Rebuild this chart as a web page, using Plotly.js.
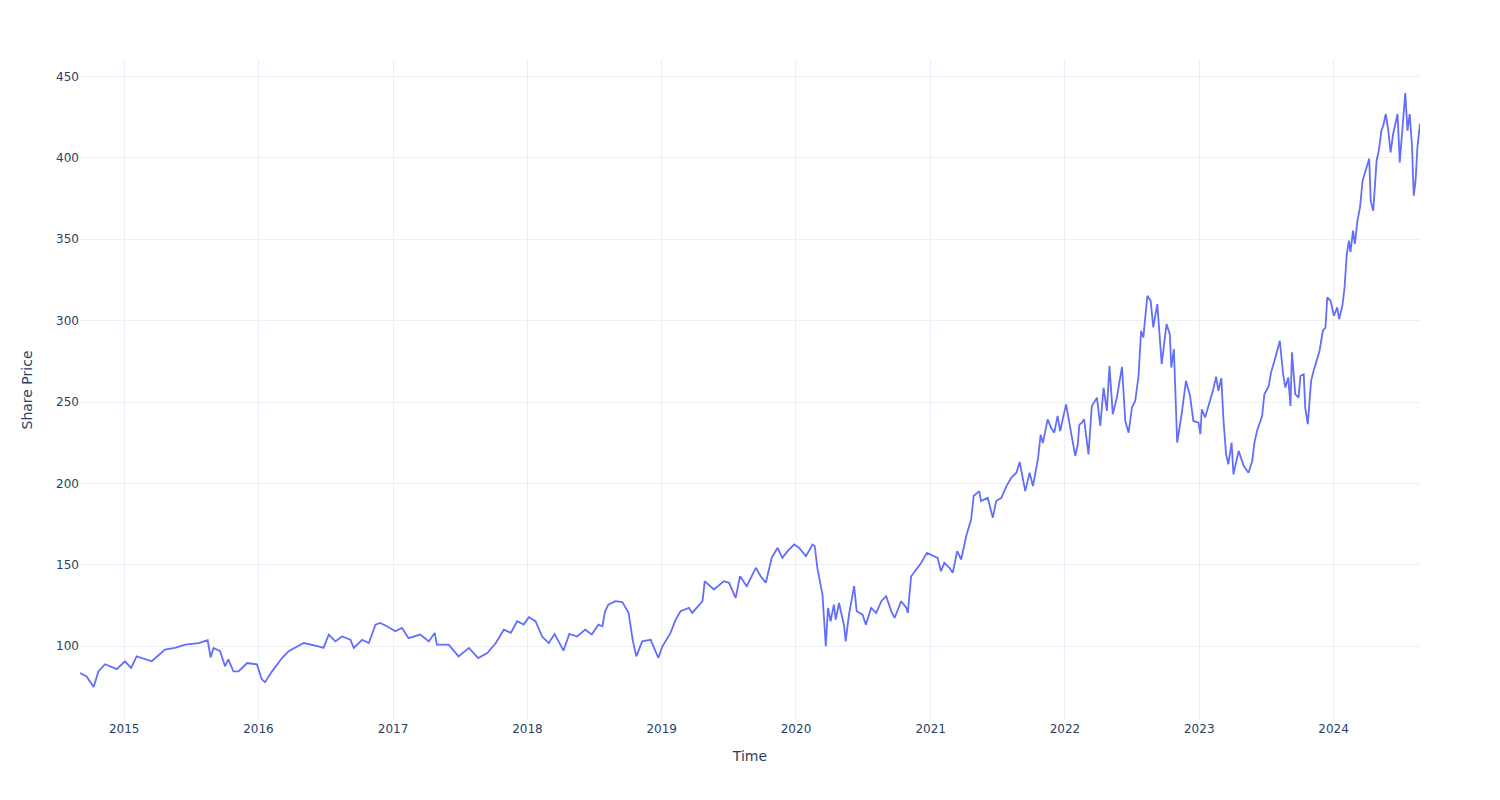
<!DOCTYPE html>
<html>
<head>
<meta charset="utf-8">
<script src="https://cdn.plot.ly/plotly-3.0.1.min.js"></script>
<style>html,body{margin:0;padding:0;background:#fff;}#chart{width:1500px;height:800px;}</style>
</head>
<body>
<div id="chart"></div>
<script>
const dates = [
"2014-09-03","2014-09-21","2014-10-10","2014-10-23","2014-11-10","2014-12-12",
"2015-01-03","2015-01-20","2015-02-04","2015-03-17","2015-04-22","2015-05-19","2015-06-16","2015-07-22","2015-08-16","2015-08-24","2015-09-01","2015-09-19","2015-10-02","2015-10-11","2015-10-25","2015-11-08","2015-12-01","2015-12-28",
"2016-01-10","2016-01-19","2016-02-07","2016-03-05","2016-03-23","2016-04-19","2016-05-03","2016-06-12","2016-06-26","2016-07-10","2016-07-28","2016-08-15","2016-09-07","2016-09-16","2016-10-09","2016-10-27","2016-11-14","2016-11-27","2016-12-15",
"2017-01-07","2017-01-25","2017-02-12","2017-03-16","2017-04-08","2017-04-24","2017-04-30","2017-06-01","2017-06-28","2017-07-26","2017-08-20","2017-09-14","2017-10-07","2017-10-29","2017-11-17","2017-12-04","2017-12-22",
"2018-01-05","2018-01-23","2018-02-10","2018-02-28","2018-03-16","2018-04-09","2018-04-25","2018-05-16","2018-06-07","2018-06-25","2018-07-13","2018-07-24","2018-07-31","2018-08-09","2018-08-28","2018-09-16","2018-10-03","2018-10-14","2018-10-24","2018-11-09","2018-12-02","2018-12-23",
"2019-01-03","2019-01-25","2019-02-08","2019-02-21","2019-03-16","2019-03-25","2019-04-22","2019-04-28","2019-05-23","2019-06-19","2019-07-03","2019-07-21","2019-08-02","2019-08-20","2019-08-31","2019-09-14","2019-09-27","2019-10-11","2019-10-27","2019-11-12","2019-11-25","2019-12-09","2019-12-27",
"2020-01-09","2020-01-28","2020-02-15","2020-02-21","2020-02-28","2020-03-13","2020-03-22","2020-03-28","2020-04-04","2020-04-13","2020-04-18","2020-04-27","2020-05-11","2020-05-15","2020-05-24","2020-06-07","2020-06-14","2020-06-30","2020-07-09","2020-07-23","2020-08-06","2020-08-20","2020-09-02","2020-09-16","2020-09-25","2020-10-13","2020-10-27","2020-10-31","2020-11-09","2020-11-23","2020-12-06","2020-12-22",
"2021-01-11","2021-01-20","2021-01-29","2021-02-07","2021-02-21","2021-03-02","2021-03-14","2021-03-25","2021-04-08","2021-04-21","2021-04-28","2021-05-13","2021-05-18","2021-06-05","2021-06-19","2021-06-28","2021-07-12","2021-07-26","2021-08-08","2021-08-22","2021-08-31","2021-09-15","2021-09-27","2021-10-06","2021-10-20","2021-10-27","2021-11-02","2021-11-15","2021-11-24","2021-12-03","2021-12-12","2021-12-19",
"2022-01-04","2022-01-13","2022-01-29","2022-02-05","2022-02-09","2022-02-16","2022-02-22","2022-03-06","2022-03-15","2022-03-29","2022-04-07","2022-04-16","2022-04-25","2022-05-02","2022-05-11","2022-05-22","2022-06-05","2022-06-14","2022-06-23","2022-07-02","2022-07-11","2022-07-20","2022-07-27","2022-08-02","2022-08-13","2022-08-22","2022-08-29","2022-09-09","2022-09-21","2022-10-04","2022-10-13","2022-10-17","2022-10-24","2022-11-02","2022-11-14","2022-11-26","2022-12-07","2022-12-16","2022-12-30",
"2023-01-04","2023-01-08","2023-01-17","2023-01-31","2023-02-07","2023-02-16","2023-02-22","2023-03-02","2023-03-08","2023-03-15","2023-03-21","2023-03-30","2023-04-04","2023-04-18","2023-05-02","2023-05-15","2023-05-25","2023-05-31","2023-06-07","2023-06-21","2023-06-27","2023-07-09","2023-07-15","2023-07-27","2023-08-08","2023-08-17","2023-08-23","2023-08-31","2023-09-06","2023-09-10","2023-09-19","2023-09-28","2023-10-03","2023-10-12","2023-10-16","2023-10-23","2023-11-01","2023-11-08","2023-11-15","2023-11-24","2023-12-03","2023-12-10","2023-12-15","2023-12-24",
"2024-01-02","2024-01-11","2024-01-16","2024-01-25","2024-01-31","2024-02-06","2024-02-12","2024-02-16","2024-02-23","2024-02-28","2024-03-06","2024-03-13","2024-03-20","2024-03-29","2024-04-07","2024-04-11","2024-04-18","2024-04-27","2024-05-03","2024-05-10","2024-05-15","2024-05-22","2024-05-29","2024-06-04","2024-06-11","2024-06-17","2024-06-23","2024-06-29","2024-07-05","2024-07-14","2024-07-20","2024-07-26","2024-08-01","2024-08-06","2024-08-11","2024-08-16","2024-08-23"
];
const sharePrice = [
83.6,81.5,75.0,84.6,89.0,86.0,
90.8,86.7,93.8,90.8,98.0,99.0,101.0,102.0,103.7,93.2,99.0,97.0,87.7,92.0,84.6,84.6,89.7,88.9,
79.7,78.0,84.6,92.8,97.0,100.0,102.0,100.0,99.0,107.2,103.0,106.0,104.0,99.0,104.0,102.0,113.3,114.3,112.3,
109.2,111.3,105.0,107.2,103.0,108.2,101.0,101.0,93.8,99.0,92.8,95.9,102.0,110.2,108.2,115.4,113.3,
117.8,115.4,106.0,102.0,107.6,97.3,107.6,106.0,110.2,107.2,113.3,112.3,121.5,125.6,127.7,127.2,120.5,104.1,93.8,103.0,104.0,92.8,
100.0,108.2,116.4,121.5,123.6,120.5,127.7,140.0,134.9,140.0,139.0,129.7,143.0,136.9,142.0,148.2,143.0,139.0,154.3,160.5,154.3,158.4,162.5,
160.5,155.4,162.5,161.5,148.2,131.8,100.0,123.6,115.4,125.6,116.4,126.6,112.3,103.0,119.4,136.9,121.5,119.4,113.3,123.6,120.5,127.7,130.8,121.5,117.4,127.7,123.6,120.5,143.0,147.2,151.2,157.4,
155.4,154.3,146.1,151.2,148.2,145.1,158.4,153.3,168.0,177.9,192.3,195.3,189.2,191.2,179.0,189.2,191.2,198.4,203.5,206.6,213.2,195.3,206.6,198.4,215.6,230.0,224.8,239.4,234.3,231.2,241.5,232.2,
248.6,237.4,216.9,224.1,236.0,237.4,239.4,217.9,247.6,252.7,235.3,258.8,244.6,272.2,242.5,252.7,271.6,238.4,231.2,246.6,250.7,266.0,293.8,289.6,315.3,312.2,295.8,310.2,273.3,297.9,291.7,271.2,282.5,225.1,242.5,263.0,253.8,238.4,237.4,
230.3,245.6,240.5,250.7,256.9,265.5,256.9,264.7,238.4,217.9,211.8,225.1,205.6,220.0,210.7,206.6,213.8,225.1,232.3,241.5,254.8,259.9,268.1,277.3,287.6,267.1,258.9,265.0,247.6,280.5,254.8,252.7,266.0,267.1,246.6,236.4,263.0,269.2,275.3,281.5,293.8,295.8,314.2,312.2,
303.0,308.1,300.9,309.1,320.4,340.9,349.1,342.0,355.3,347.1,361.4,369.6,386.0,392.2,399.4,373.6,367.5,398.2,404.3,416.6,419.7,426.9,416.6,403.3,414.6,420.8,426.9,397.2,412.6,439.8,416.6,426.9,408.5,376.7,386.0,406.4,421.0
];

const font = {family: '"DejaVu Sans", Verdana, sans-serif', color: '#2a3f5f', size: 12};
const trace = {
  x: dates,
  y: sharePrice,
  type: 'scatter',
  mode: 'lines',
  line: {color: '#636efa', width: 1.8},
  name: 'Share Price'
};
const layout = {
  width: 1500,
  height: 800,
  margin: {l: 80, r: 80, t: 60, b: 80},
  paper_bgcolor: '#ffffff',
  plot_bgcolor: '#ffffff',
  font: font,
  showlegend: false,
  xaxis: {
    type: 'date',
    title: {text: 'Time', standoff: 16, font: {family: font.family, color: '#2a3f5f', size: 14}},
    gridcolor: '#EBF0F8',
    showline: false,
    zeroline: false,
    ticks: '',
    automargin: true
  },
  yaxis: {
    title: {text: 'Share Price', standoff: 20, font: {family: font.family, color: '#2a3f5f', size: 14}},
    gridcolor: '#EBF0F8',
    zerolinecolor: '#EBF0F8',
    zeroline: false,
    ticks: '',
    automargin: true
  }
};
Plotly.newPlot('chart', [trace], layout, {displayModeBar: false});
</script>
</body>
</html>
